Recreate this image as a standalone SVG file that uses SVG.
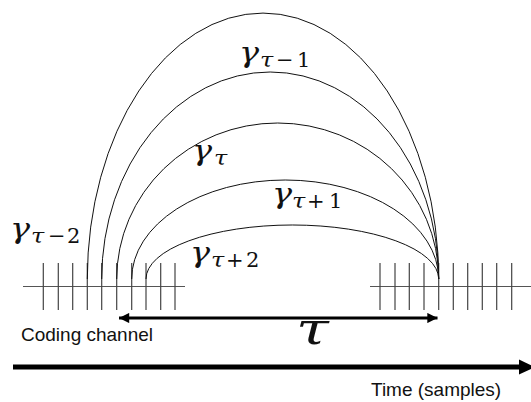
<svg xmlns="http://www.w3.org/2000/svg" width="531" height="402" viewBox="0 0 531 402">
<defs>
<style>
.tick{stroke:#444;stroke-width:1.2;fill:none}
.axis{stroke:#555;stroke-width:1.2;fill:none}
.curve{stroke:#111;stroke-width:1;fill:none}
.m{font-family:"DejaVu Serif","Liberation Serif",serif;fill:#111}
.g{font-size:28px;font-style:italic}
.s{font-size:20px;font-style:italic}
.n{font-size:21px}
.lbl{font-family:"Liberation Sans",Arial,sans-serif;font-size:19px;fill:#111}
</style>
<marker id="ah" viewBox="0 0 10 10" refX="10" refY="5" markerWidth="4.3" markerHeight="3.4" orient="auto-start-reverse" markerUnits="strokeWidth">
<path d="M0,0 L10,5 L0,10 Z" fill="#000"/>
</marker>
</defs>
<rect width="531" height="402" fill="#fff"/>
<g id="left-channel">
<line class="axis" x1="23" y1="286.5" x2="185" y2="286.5"/>
<path class="tick" d="M43.3,263V310M58.3,263V310M72.7,263V310M87.3,263V310M101.7,263V310M116.7,263V310M131.7,263V310M146,263V310M160.7,263V310M175,263V310"/>
</g>
<g id="right-channel">
<line class="axis" x1="370" y1="286.5" x2="531" y2="286.5"/>
<path class="tick" d="M380,263V310M395,263V310M409.3,263V310M424,263V310M438.7,263V310M453.3,263V310M467.7,263V310M482.3,263V310M496.7,263V310M511.7,263V310"/>
</g>
<g id="connectors">
<path class="curve" d="M87.3,279 A175.7,266 0 0 1 438.7,279"/>
<path class="curve" d="M101.7,279 A168.5,207 0 0 1 438.7,279"/>
<path class="curve" d="M116.7,279 A161,156 0 0 1 438.7,279"/>
<path class="curve" d="M131.7,279 A153.5,99 0 0 1 438.7,279"/>
<path class="curve" d="M146,279 A146.35,54 0 0 1 438.7,279"/>
<line x1="119" y1="318" x2="437.5" y2="318" stroke="#000" stroke-width="3" marker-start="url(#ah)" marker-end="url(#ah)"/>
<line x1="13" y1="367" x2="520" y2="367" stroke="#000" stroke-width="5"/>
<path d="M519,359.5 L535,367 L519,374.5 Z" fill="#000"/>
</g>
<g id="label-tm2">
<text class="m g" transform="translate(10,238) scale(1.2,1)">γ</text><text class="m s" transform="translate(31,243) scale(1.2,1)">τ</text><text class="m n" x="48" y="243">−</text><text class="m n" x="67" y="243">2</text>
</g>
<g id="label-tm1">
<text class="m g" transform="translate(239,62) scale(1.2,1)">γ</text><text class="m s" transform="translate(260,67) scale(1.2,1)">τ</text><text class="m n" x="276" y="67">−</text><text class="m n" x="297" y="67">1</text>
</g>
<g id="label-t">
<text class="m g" transform="translate(192,160) scale(1.2,1)">γ</text><text class="m s" transform="translate(214,165) scale(1.2,1)">τ</text>
</g>
<g id="label-tp1">
<text class="m g" transform="translate(272,203) scale(1.2,1)">γ</text><text class="m s" transform="translate(292,208) scale(1.2,1)">τ</text><text class="m n" x="307" y="208">+</text><text class="m n" x="329" y="208">1</text>
</g>
<g id="label-tp2">
<text class="m g" transform="translate(190,261.5) scale(1.2,1)">γ</text><text class="m s" transform="translate(211,266.5) scale(1.2,1)">τ</text><text class="m n" x="226" y="266.5">+</text><text class="m n" x="246" y="266.5">2</text>
</g>
<g id="label-tau">
<text class="m" transform="translate(296,344) scale(1.35,1)" font-size="44" font-style="italic">τ</text>
</g>
<g id="label-coding">
<text class="lbl" x="21" y="340.7">Coding channel</text>
</g>
<g id="label-time">
<text class="lbl" x="371" y="395.7">Time (samples)</text>
</g>
</svg>
